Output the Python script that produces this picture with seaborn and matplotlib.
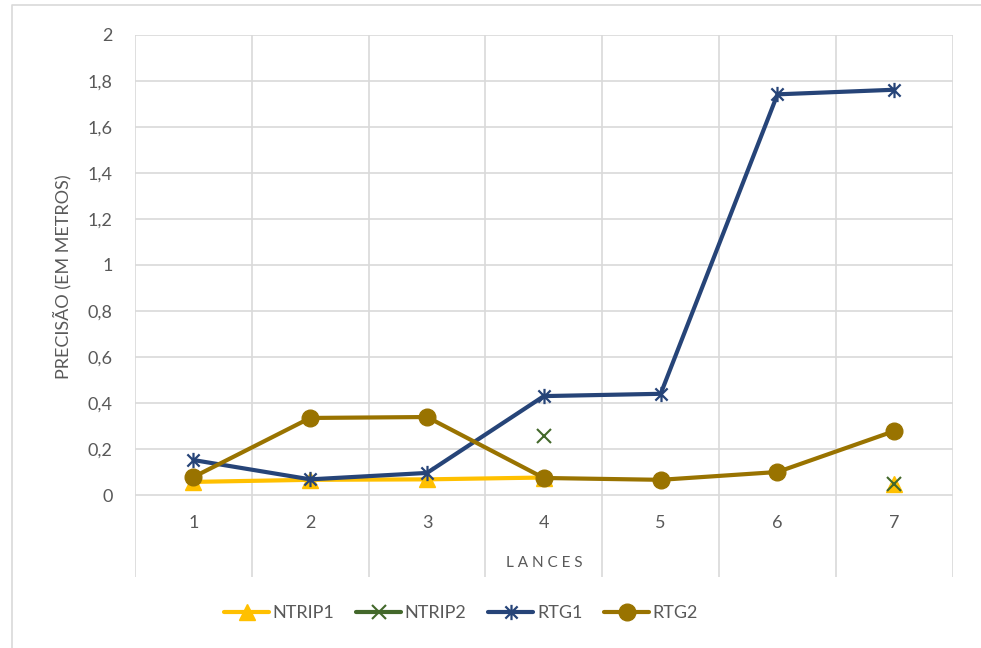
import numpy as np
import pandas as pd
import matplotlib
matplotlib.use("Agg")
import matplotlib.pyplot as plt
import seaborn as sns
from matplotlib.path import Path
from matplotlib.lines import Line2D

# ---- data ----
lances = [1, 2, 3, 4, 5, 6, 7]
ntrip1 = [0.057, 0.066, 0.068, 0.076, np.nan, np.nan, 0.050]
ntrip2 = [np.nan, np.nan, np.nan, 0.255, np.nan, np.nan, 0.048]
rtg1 = [0.152, 0.068, 0.096, 0.430, 0.440, 1.742, 1.762]
rtg2 = [0.078, 0.335, 0.339, 0.074, 0.066, 0.100, 0.278]
series_names = ["NTRIP1", "NTRIP2", "RTG1", "RTG2"]
yticks = [0, 0.2, 0.4, 0.6, 0.8, 1.0, 1.2, 1.4, 1.6, 1.8, 2.0]
ytick_labels = ["0", "0,2", "0,4", "0,6", "0,8", "1", "1,2", "1,4", "1,6", "1,8", "2"]
xlabel = "L A N C E S"
ylabel = "PRECISÃO (EM METROS)"

sns.set_theme(style="white")
plt.rcParams["font.family"] = ["Lato", "DejaVu Sans"]

GREY = "#595959"
GRID = "#D9D9D9"

# asterisk marker (X plus vertical bar)
star = Path([(-1, -1), (1, 1), (-1, 1), (1, -1), (0, -1.25), (0, 1.25)],
            [Path.MOVETO, Path.LINETO, Path.MOVETO, Path.LINETO, Path.MOVETO, Path.LINETO])

styles = {
    "NTRIP1": dict(color="#FFC000", marker="^", markersize=11, markeredgewidth=1, lw=3.0),
    "NTRIP2": dict(color="#43682B", marker="x", markersize=10, markeredgewidth=1.5, lw=3.0),
    "RTG1": dict(color="#264478", marker=star, markersize=11, markeredgewidth=1.6, lw=3.0),
    "RTG2": dict(color="#997300", marker="o", markersize=12, markeredgewidth=1, lw=3.0),
}

fig = plt.figure(figsize=(9.81, 6.48), dpi=100)
ax = fig.add_axes([135 / 981, 1 - 577 / 648, (952.7 - 135) / 981, (577 - 35) / 648])

for name, vals in zip(series_names, [ntrip1, ntrip2, rtg1, rtg2]):
    df = pd.DataFrame({"lance": lances, "valor": vals})
    isna = df["valor"].isna()
    df["seg"] = isna.cumsum()
    df = df[~isna]
    st = styles[name]
    sns.lineplot(data=df, x="lance", y="valor", units="seg", estimator=None,
                 sort=False, ax=ax, legend=False,
                 color=st["color"], marker=st["marker"], markersize=st["markersize"],
                 markeredgewidth=st["markeredgewidth"], markeredgecolor=st["color"],
                 markerfacecolor=st["color"], linewidth=st["lw"],
                 solid_capstyle="round", clip_on=False)

ax.set_xlim(0.5, 7.5)
ax.set_ylim(-(577 - 495) / 230, 2.0)
ax.set_xticks(np.arange(0.5, 7.6, 1.0))
ax.set_yticks(yticks)
ax.set_yticklabels(ytick_labels)
ax.tick_params(axis="x", length=0, labelbottom=False)
ax.tick_params(axis="y", length=0, pad=16, labelsize=13, labelcolor=GREY)
ax.grid(True, color=GRID, linewidth=1.2)
ax.set_axisbelow(True)
for s in ax.spines.values():
    s.set_visible(False)
ax.set_xlabel("")
ax.set_ylabel("")

for x in lances:
    ax.text(x, -0.122, str(x), ha="center", va="center", fontsize=13, color=GREY)
ax.text(4, -0.296, xlabel, ha="center", va="center", fontsize=11, color=GREY)

fig.text(62 / 981, 1 - 277 / 648, ylabel, rotation=90, ha="center", va="center",
         fontsize=13, color=GREY)

# outer chart border (top and left visible)
fig.add_artist(Line2D([12 / 981, 12 / 981, 1.0], [0.0, 1 - 5 / 648, 1 - 5 / 648],
                      transform=fig.transFigure, color=GRID, lw=1.2))

handles = []
for name in series_names:
    st = styles[name]
    handles.append(Line2D([], [], color=st["color"], marker=st["marker"],
                          markersize=st["markersize"], markeredgewidth=st["markeredgewidth"],
                          markeredgecolor=st["color"], markerfacecolor=st["color"],
                          linewidth=st["lw"], solid_capstyle="round"))
fig.legend(handles, series_names, loc="center", bbox_to_anchor=(0.47, 1 - 613 / 648),
           ncol=4, frameon=False, fontsize=13, handlelength=2.5, handletextpad=0.2,
           columnspacing=1.2, labelcolor=GREY)

fig.savefig("out.png", dpi=100)
